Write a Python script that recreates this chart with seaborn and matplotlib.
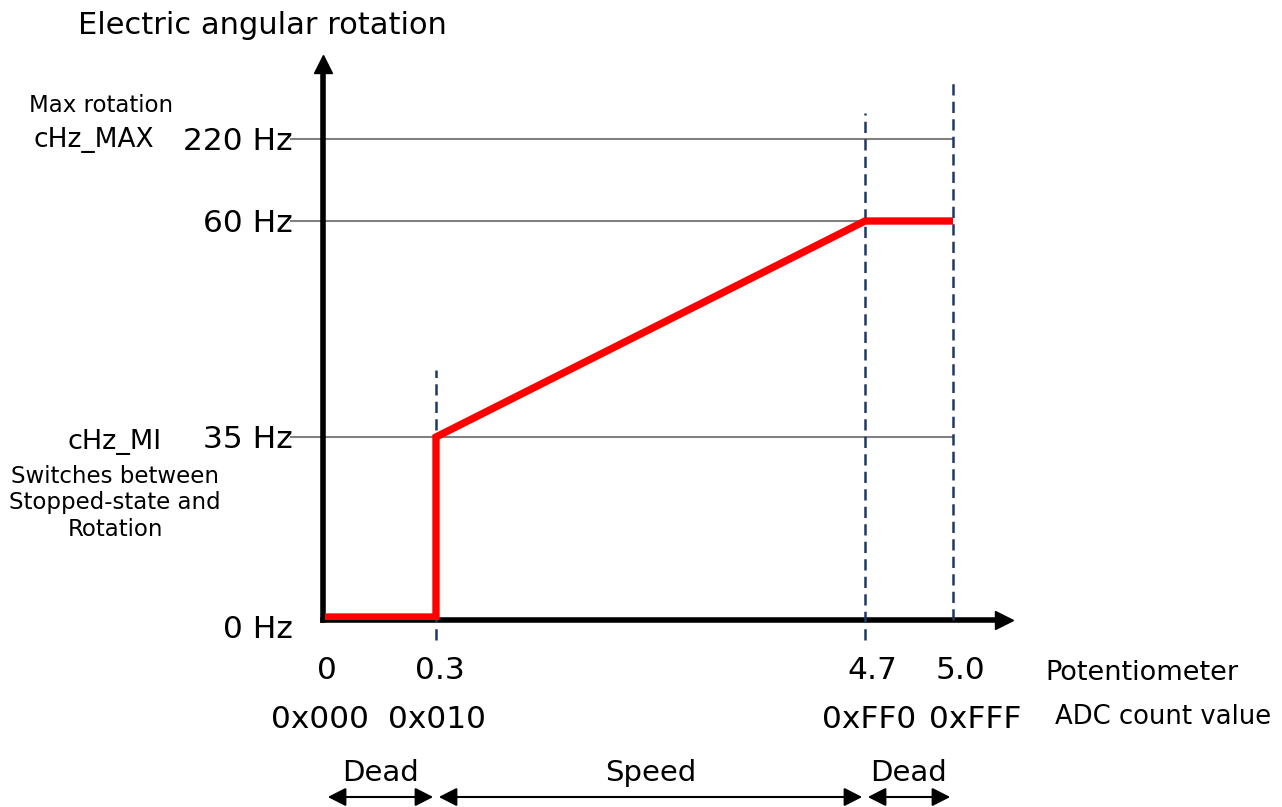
import numpy as np
import matplotlib
matplotlib.use('Agg')
import matplotlib.pyplot as plt
import seaborn as sns
import pandas as pd
from matplotlib import transforms

# values
volt_ticks = [0, 0.3, 4.7, 5.0]
volt_labels = ['0', '0.3', '4.7', '5.0']
adc_labels = ['0x000', '0x010', '0xFF0', '0xFFF']
hz_ticks = [0, 35, 60, 220]
hz_labels = ['0 Hz', '35 Hz', '60 Hz', '220 Hz']
curve_volt = [0, 0.3, 0.3, 4.7, 5.0]
curve_hz = [0, 0, 35, 60, 60]
ref_hz = [220, 60, 35]
ref_end_volt = [5.0, 4.7, 5.0]
guide_volt = [0.3, 4.7, 5.0]
zone_names = ['Dead', 'Speed', 'Dead']
zone_edges = [0, 0.3, 4.7, 5.0]

W, H = 1282, 807
# schematic (non linear) placement of the tick values, in pixels
X_PX = [325, 436, 865, 953]
Y_UP = [H - 617, H - 437, H - 221, H - 139]
# small horizontal nudges of the label rows, in pixels
VOLT_NUDGE = [2, 4, 7, 7]
ADC_NUDGE = [-5, 1, 4, 22]


def make_map(src, dst):
    src = np.asarray(src, float)
    dst = np.asarray(dst, float)
    lo_s = (dst[1] - dst[0]) / (src[1] - src[0])
    hi_s = (dst[-1] - dst[-2]) / (src[-1] - src[-2])

    def f(v):
        v = np.asarray(v, float)
        out = np.interp(v, src, dst)
        out = np.where(v < src[0], dst[0] + (v - src[0]) * lo_s, out)
        out = np.where(v > src[-1], dst[-1] + (v - src[-1]) * hi_s, out)
        return out
    return f


xfwd, xinv = make_map(volt_ticks, X_PX), make_map(X_PX, volt_ticks)
yfwd, yinv = make_map(hz_ticks, Y_UP), make_map(Y_UP, hz_ticks)


def ypx(p):
    # pixel row (from top) -> Hz
    return float(yinv(H - p))


sns.set_theme(style='white')
plt.rcParams['font.family'] = ['DejaVu Sans']
plt.rcParams['text.color'] = 'black'

fig = plt.figure(figsize=(W / 100, H / 100), dpi=100)
left, right, bottom, top = 323, 1004, 620, 64
ax = fig.add_axes([left / W, (H - bottom) / H, (right - left) / W, (bottom - top) / H])
ax.set_xscale('function', functions=(xfwd, xinv))
ax.set_yscale('function', functions=(yfwd, yinv))
ax.set_xlim(float(xinv(left)), float(xinv(right)))
ax.set_ylim(ypx(bottom), ypx(top))

for side in ['top', 'right']:
    ax.spines[side].set_visible(False)
for side in ['left', 'bottom']:
    ax.spines[side].set_color('black')
    ax.spines[side].set_linewidth(4)
    ax.spines[side].set_capstyle('projecting')
ax.plot([1], [0], marker='>', ms=13, color='black', transform=ax.transAxes, clip_on=False)
ax.plot([0], [1], marker='^', ms=13, color='black', transform=ax.transAxes, clip_on=False)

# reference levels
gray_start = float(xinv(290))
ax.hlines(ref_hz, gray_start, ref_end_volt, color='#808080', lw=1.5, clip_on=False, zorder=2)

# guide lines
guide_top = [ypx(370), ypx(113), ypx(80)]
guide_bot = [ypx(640), ypx(640), ypx(620)]
ax.vlines(guide_volt, guide_bot, guide_top, color='#1F3864', lw=1.8,
          linestyles=(0, (4.5, 2.5)), clip_on=False, zorder=3)

df = pd.DataFrame({'volt': curve_volt, 'hz': curve_hz})
sns.lineplot(data=df, x='volt', y='hz', sort=False, estimator=None, color='#FF0000',
             lw=5.3, ax=ax, zorder=4, solid_joinstyle='miter', solid_capstyle='butt')

ax.set_yticks(hz_ticks, hz_labels)
ax.tick_params(axis='y', length=0, pad=22, labelsize=22.5, labelcolor='black')
ax.set_xticks(volt_ticks, volt_labels)
ax.tick_params(axis='x', length=0, pad=26, labelsize=22.5, labelcolor='black')
ax.minorticks_off()
ax.set_xlabel('')
ax.set_ylabel('')
ax.grid(False)

px = fig.dpi_scale_trans
for lab, dx in zip(ax.get_xticklabels(), VOLT_NUDGE):
    lab.set_transform(lab.get_transform() + transforms.ScaledTranslation(dx / 100, 0, px))
# the 0 Hz label sits a little under its level in the original
zero_lab = ax.get_yticklabels()[0]
zero_lab.set_transform(zero_lab.get_transform() + transforms.ScaledTranslation(0, -0.1, px))

blend = transforms.blended_transform_factory(ax.transData, fig.transFigure)
for v, a, dx in zip(volt_ticks, adc_labels, ADC_NUDGE):
    ax.text(v, 1 - 728 / H, a, fontsize=22.5, ha='center', va='baseline',
            transform=blend + transforms.ScaledTranslation(dx / 100, 0, px))


def px_text(x, y, s, **kw):
    fig.text(x / W, 1 - y / H, s, **kw)


px_text(78, 25, 'Electric angular rotation', fontsize=22, ha='left', va='center')
px_text(101, 106, 'Max rotation', fontsize=16.5, ha='center', va='center')
px_text(94, 140, 'cHz_MAX', fontsize=19, ha='center', va='center')
px_text(115, 442, 'cHz_MI', fontsize=19.5, ha='center', va='center')
px_text(115, 503, 'Switches between\nStopped-state and\nRotation', fontsize=16.5,
        ha='center', va='center', linespacing=1.22)
px_text(1045, 673, 'Potentiometer', fontsize=19.5, ha='left', va='center')
px_text(1055, 717, 'ADC count value', fontsize=18.6, ha='left', va='center')

# zones under the axis
for name, a, b in zip(zone_names, zone_edges[:-1], zone_edges[1:]):
    ax.annotate('', xy=(b, 1 - 797 / H), xytext=(a, 1 - 797 / H), xycoords=blend,
                textcoords=blend, annotation_clip=False,
                arrowprops=dict(arrowstyle='<|-|>,head_length=0.55,head_width=0.28',
                                mutation_scale=20, lw=1.5, color='black',
                                shrinkA=2, shrinkB=2))
    mid = float(xinv((xfwd(a) + xfwd(b)) / 2))
    ax.text(mid, 1 - 773 / H, name, transform=blend, fontsize=21, ha='center', va='center')

fig.savefig('out.png', dpi=100)
